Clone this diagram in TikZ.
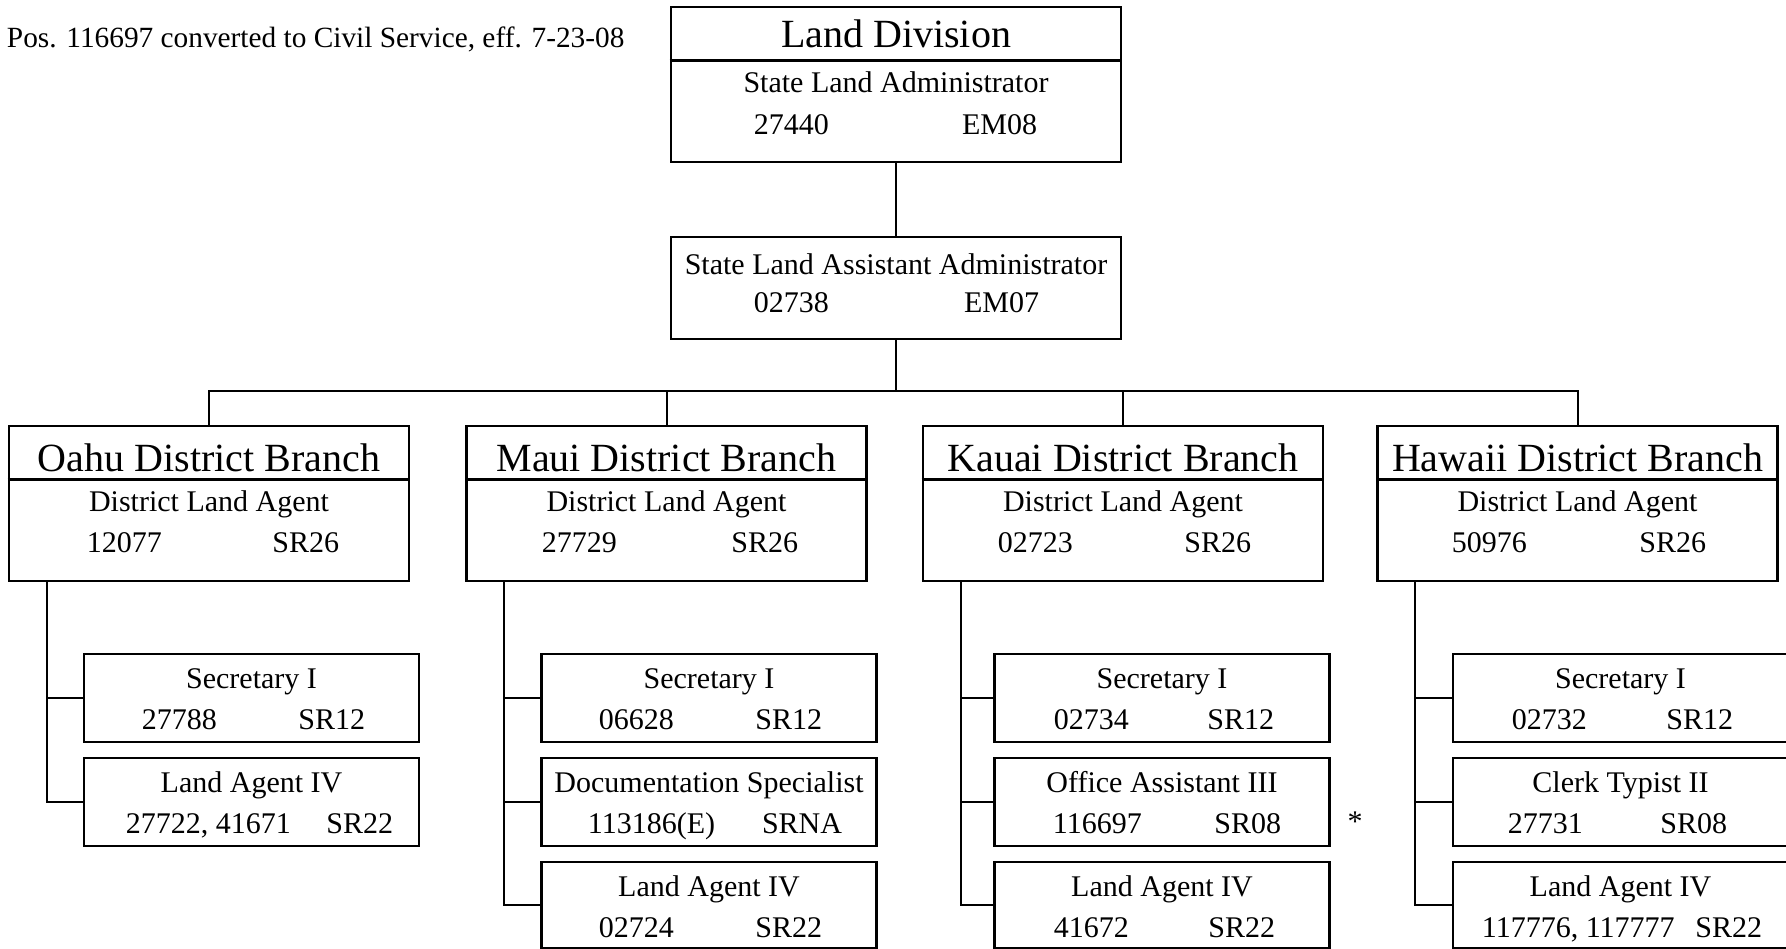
\documentclass[tikz,border=0pt]{standalone}
\usepackage{fontspec}
\setmainfont{Liberation Serif}

\tikzset{every picture/.style={line width=0.75pt}}
\tikzset{
  postbox/.style 2 args={draw, rectangle, line width=1.9pt, inner sep=0pt, minimum width=#1*0.75pt, minimum height=#2*0.75pt},
  boxtitle/.style={font=\fontsize{30}{36}\selectfont, anchor=base},
  jobtitle/.style={font=\fontsize{22.5}{27}\selectfont, anchor=base},
  posnum/.style={jobtitle, anchor=base west},
  paygrade/.style={jobtitle, anchor=base east},
  wire/.style={line width=1.5pt},
}

\begin{document}
\begin{tikzpicture}[x=0.75pt,y=0.75pt,yscale=-1,xscale=1]
	\useasboundingbox (0,0) rectangle (1786,949);

	% Text Node
	\node [posnum, font=\fontsize{22}{26}\selectfont] (note) at (2,48) {Pos. 116697 converted to Civil Service, eff. 7-23-08};

	%Shape: Rectangle
	\node [postbox={450}{155}] (landdiv) at (896,84.5) {};
	\node [boxtitle] (landdivtitle) at (896,48) {Land Division};
	\node [jobtitle] (landdivjob) at (896,93) {State Land Administrator};
	\node [posnum] (landdivnum) at (749,134) {27440};
	\node [paygrade] (landdivgrade) at (1042,134) {EM08};

	%Shape: Rectangle
	\node [postbox={450}{102}] (asst) at (896,288) {};
	\node [jobtitle] (asstjob) at (896,274) {State Land Assistant Administrator};
	\node [posnum] (asstnum) at (749,312) {02738};
	\node [paygrade] (asstgrade) at (1044,312) {EM07};

	%Shape: Rectangle
	\node [postbox={400}{155}] (oahu) at (209,503.5) {};
	\node [boxtitle] (oahutitle) at (209,471) {Oahu District Branch};
	\node [jobtitle] (oahujob) at (209,511) {District Land Agent};
	\node [posnum] (oahunum) at (82,552) {12077};
	\node [paygrade] (oahugrade) at (344,552) {SR26};

	%Shape: Rectangle
	\node [postbox={400}{155}] (maui) at (666.5,503.5) {};
	\node [boxtitle] (mauititle) at (666.5,471) {Maui District Branch};
	\node [jobtitle] (mauijob) at (666.5,511) {District Land Agent};
	\node [posnum] (mauinum) at (537,552) {27729};
	\node [paygrade] (mauigrade) at (803,552) {SR26};

	%Shape: Rectangle
	\node [postbox={400}{155}] (kauai) at (1123,503.5) {};
	\node [boxtitle] (kauaititle) at (1123,471) {Kauai District Branch};
	\node [jobtitle] (kauaijob) at (1123,511) {District Land Agent};
	\node [posnum] (kauainum) at (993,552) {02723};
	\node [paygrade] (kauaigrade) at (1256,552) {SR26};

	%Shape: Rectangle
	\node [postbox={400}{155}] (hawaii) at (1577.5,503.5) {};
	\node [boxtitle] (hawaiititle) at (1577.5,471) {Hawaii District Branch};
	\node [jobtitle] (hawaiijob) at (1577.5,511) {District Land Agent};
	\node [posnum] (hawaiinum) at (1447,552) {50976};
	\node [paygrade] (hawaiigrade) at (1711,552) {SR26};

	%Straight Lines
	\foreach \b in {landdiv,oahu,maui,kauai,hawaii}
		\draw [line width=1.9pt] ([yshift=41.25pt]\b.north west) -- ([yshift=41.25pt]\b.north east);

	% Oahu staff
	\node [postbox={335}{88}] (oahusec) at (251.5,698) {};
	\node [jobtitle] (oahusecjob) at (251.5,688) {Secretary I};
	\node [posnum] (oahusecnum) at (137,729) {27788};
	\node [paygrade] (oahusecgrade) at (370,729) {SR12};
	\node [postbox={335}{88}] (oahula) at (251.5,802) {};
	\node [jobtitle] (oahulajob) at (251.5,792) {Land Agent IV};
	\node [posnum] (oahulanum) at (121,833) {27722, 41671};
	\node [paygrade] (oahulagrade) at (398,833) {SR22};

	% Maui staff
	\node [postbox={335}{88}] (mauisec) at (709,698) {};
	\node [jobtitle] (mauisecjob) at (709,688) {Secretary I};
	\node [posnum] (mauisecnum) at (594,729) {06628};
	\node [paygrade] (mauisecgrade) at (827,729) {SR12};
	\node [postbox={335}{88}] (mauidoc) at (709,802) {};
	\node [jobtitle] (mauidocjob) at (709,792) {Documentation Specialist};
	\node [posnum] (mauidocnum) at (583,833) {113186(E)};
	\node [paygrade] (mauidocgrade) at (847,833) {SRNA};
	\node [postbox={335}{86}] (mauila) at (709,905) {};
	\node [jobtitle] (mauilajob) at (709,896) {Land Agent IV};
	\node [posnum] (mauilanum) at (594,937) {02724};
	\node [paygrade] (mauilagrade) at (827,937) {SR22};

	% Kauai staff
	\node [postbox={335}{88}] (kauaisec) at (1162,698) {};
	\node [jobtitle] (kauaisecjob) at (1162,688) {Secretary I};
	\node [posnum] (kauaisecnum) at (1049,729) {02734};
	\node [paygrade] (kauaisecgrade) at (1279,729) {SR12};
	\node [postbox={335}{88}] (kauaioa) at (1162,802) {};
	\node [jobtitle] (kauaioajob) at (1162,792) {Office Assistant III};
	\node [posnum] (kauaioanum) at (1048,833) {116697};
	\node [paygrade] (kauaioagrade) at (1286,833) {SR08};
	\node [postbox={335}{86}] (kauaila) at (1162,905) {};
	\node [jobtitle] (kauailajob) at (1162,896) {Land Agent IV};
	\node [posnum] (kauailanum) at (1049,937) {41672};
	\node [paygrade] (kauailagrade) at (1280,937) {SR22};

	% Text Node
	\node [jobtitle, anchor=center] (star) at (1355,822) {*};

	% Hawaii staff
	\node [postbox={335}{88}] (hawaiisec) at (1620.5,698) {};
	\node [jobtitle] (hawaiisecjob) at (1620.5,688) {Secretary I};
	\node [posnum] (hawaiisecnum) at (1507,729) {02732};
	\node [paygrade] (hawaiisecgrade) at (1738,729) {SR12};
	\node [postbox={335}{88}] (hawaiict) at (1620.5,802) {};
	\node [jobtitle] (hawaiictjob) at (1620.5,792) {Clerk Typist II};
	\node [posnum] (hawaiictnum) at (1503,833) {27731};
	\node [paygrade] (hawaiictgrade) at (1732,833) {SR08};
	\node [postbox={335}{86}] (hawaiila) at (1620.5,905) {};
	\node [jobtitle] (hawaiilajob) at (1620.5,896) {Land Agent IV};
	\node [posnum] (hawaiilanum) at (1477,937) {117776, 117777};
	\node [paygrade] (hawaiilagrade) at (1767,937) {SR22};

	%Straight Lines
	\coordinate (bus) at (896,391);
	\draw [wire] (landdiv.south) -- (asst.north);
	\draw [wire] (asst.south) -- (bus);
	\draw [wire] (oahu.north) |- (bus) -| (hawaii.north);
	\draw [wire] (maui.north) -- (maui.north |- bus);
	\draw [wire] (kauai.north) -- (kauai.north |- bus);

	%Straight Lines
	\draw [wire] ([xshift=29.25pt]oahu.south west) |- (oahusec.west);
	\draw [wire] ([xshift=29.25pt]oahu.south west) |- (oahula.west);
	\draw [wire] ([xshift=29.25pt]maui.south west) |- (mauisec.west);
	\draw [wire] ([xshift=29.25pt]maui.south west) |- (mauidoc.west);
	\draw [wire] ([xshift=29.25pt]maui.south west) |- (mauila.west);
	\draw [wire] ([xshift=29.25pt]kauai.south west) |- (kauaisec.west);
	\draw [wire] ([xshift=29.25pt]kauai.south west) |- (kauaioa.west);
	\draw [wire] ([xshift=29.25pt]kauai.south west) |- (kauaila.west);
	\draw [wire] ([xshift=29.25pt]hawaii.south west) |- (hawaiisec.west);
	\draw [wire] ([xshift=29.25pt]hawaii.south west) |- (hawaiict.west);
	\draw [wire] ([xshift=29.25pt]hawaii.south west) |- (hawaiila.west);

\end{tikzpicture}
\end{document}
